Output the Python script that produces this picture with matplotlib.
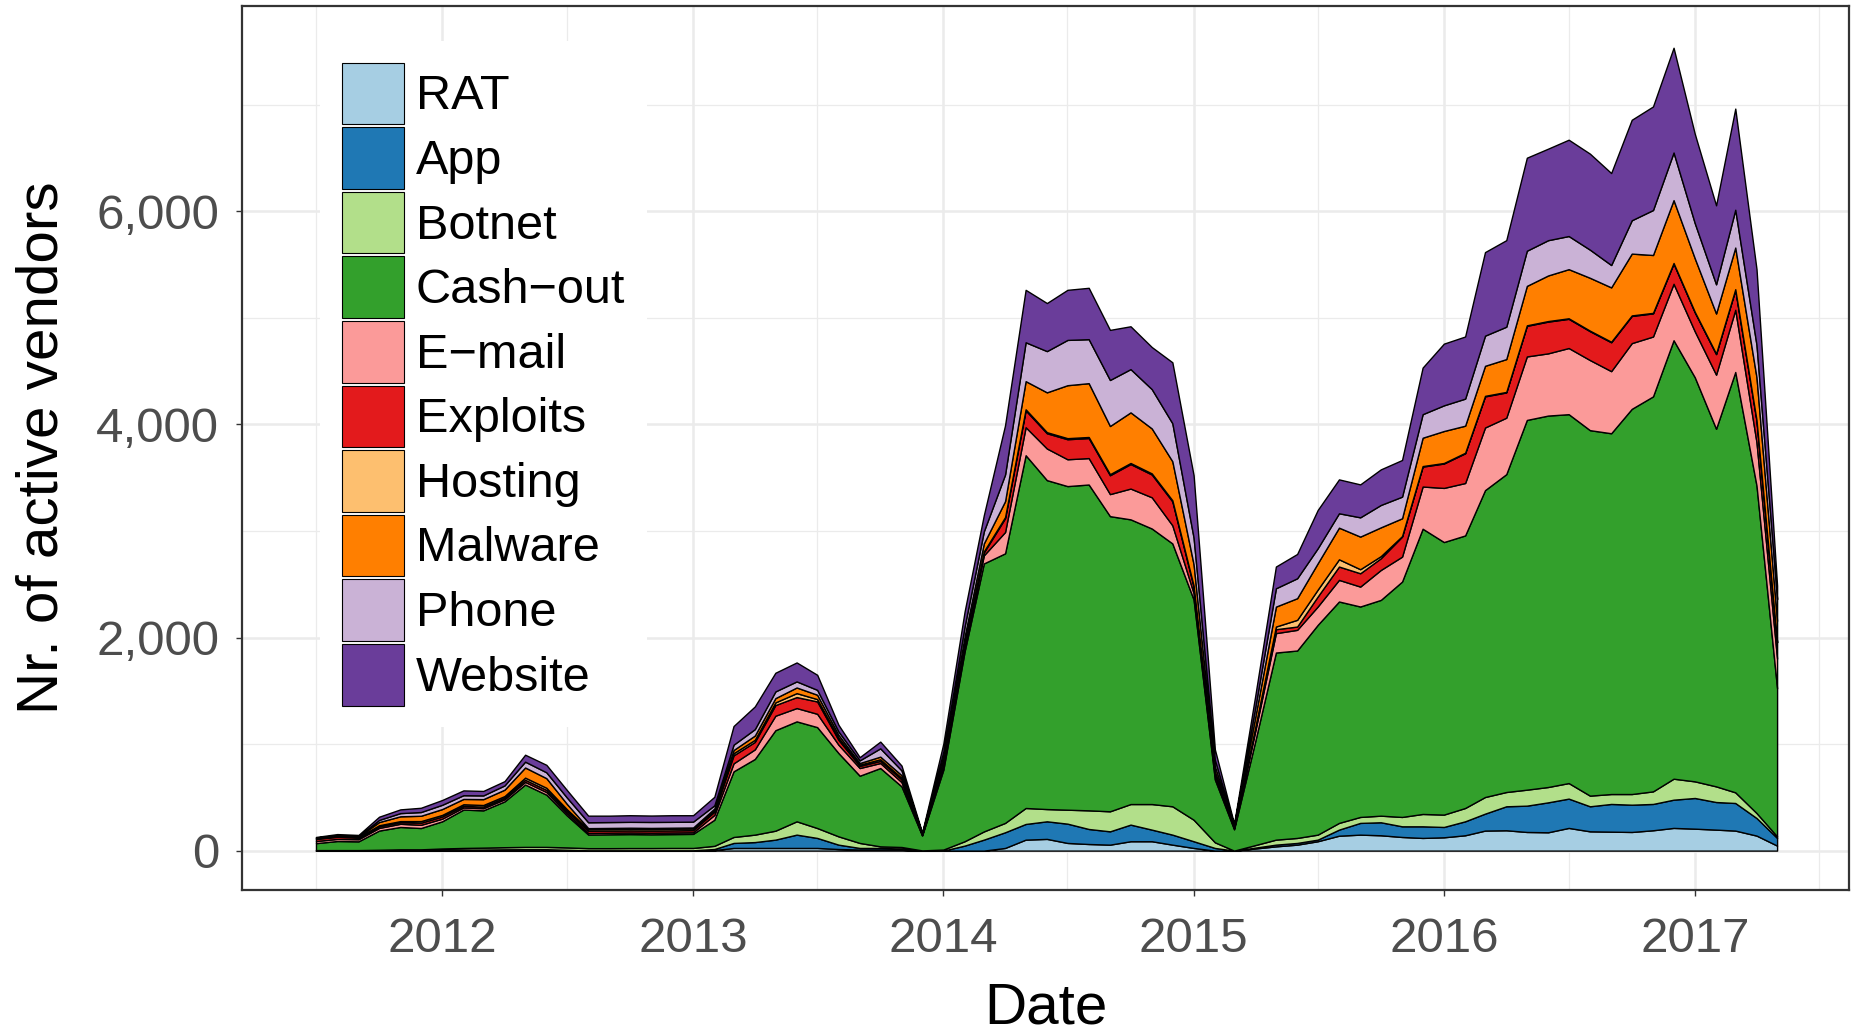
"""Active vendors per category, stacked area chart (ggplot-like look)."""

import matplotlib
matplotlib.use("Agg")
import matplotlib.dates as mdates
import matplotlib.pyplot as plt
import numpy as np
import pandas as pd
from matplotlib.patches import Patch
from matplotlib.ticker import FuncFormatter, MultipleLocator

plt.rcParams["font.family"] = ["Liberation Sans", "DejaVu Sans"]

# monthly, Jul 2011 .. May 2017
months = pd.date_range("2011-07-01", periods=71, freq="MS")

categories = ["RAT", "App", "Botnet", "Cash\u2212out", "E\u2212mail", "Exploits",
              "Hosting", "Malware", "Phone", "Website"]

rat = [0, 0, 0, 0, 0, 0, 3, 5, 5, 5, 5, 5, 3,
       0, 0, 0, 0, 0, 0,
       5, 25, 25, 25, 25, 25, 15, 10, 10, 8, 0,
       0, 0, 0, 25, 103, 110, 72, 62, 56, 88, 88, 56, 25, 0, 0,
       20, 40, 56, 88, 140, 150, 144, 128,
       119, 125, 144, 188, 191, 175, 172, 213, 181, 178, 175, 191, 213, 206, 197, 188, 141, 47]
app = [0, 0, 0, 3, 4, 4, 5, 5, 5, 7, 8, 8, 5,
       3, 3, 3, 3, 3, 3,
       10, 47, 55, 78, 125, 94, 41, 15, 15, 12, 0,
       0, 47, 103, 147, 147, 165, 181, 141, 125, 156, 109, 94, 63, 25, 0,
       8, 16, 16, 15, 57, 110, 122, 100,
       109, 97, 131, 159, 225, 247, 281, 275, 235, 260, 256, 247, 265, 288, 259, 259, 165, 72]
botnet = [5, 5, 5, 5, 8, 8, 12, 15, 18, 20, 22, 22, 22,
          20, 20, 21, 21, 22, 22,
          30, 56, 70, 84, 125, 93, 78, 47, 15, 14, 2,
          10, 41, 77, 88, 150, 115, 131, 175, 188, 193, 240, 266, 202, 53, 0,
          24, 47, 47, 47, 63, 56, 62, 88,
          116, 116, 125, 156, 134, 150, 144, 146, 100, 93, 100, 118, 197, 156, 147, 100, 47, 15]
cash_out = [65, 85, 82, 180, 210, 200, 255, 360, 350, 430, 585, 490, 300,
            128, 130, 131, 129, 130, 132,
            245, 616, 710, 943, 938, 947, 782, 631, 735, 569, 140,
            750, 1782, 2515, 2530, 3311, 3087, 3037, 3058, 2770, 2672, 2586, 2467, 2067, 590, 200,
            978, 1756, 1759, 1969, 2078, 1975, 2025, 2209,
            2677, 2558, 2558, 2880, 2983, 3470, 3486, 3462, 3430, 3386, 3615, 3707, 4115, 3792,
            3356, 3945, 3073, 1389]
email = [20, 20, 20, 25, 30, 30, 25, 20, 20, 20, 25, 25, 20,
         15, 15, 15, 15, 15, 15,
         45, 75, 90, 136, 125, 125, 78, 72, 47, 40, 5,
         40, 40, 76, 200, 263, 297, 252, 248, 207, 289, 293, 170, 60, 40, 10,
         96, 182, 194, 172, 203, 187, 281, 234,
         396, 508, 492, 588, 530, 596, 584, 621, 658, 583, 617, 562, 530, 431, 508, 584, 406, 279]
exploits = [20, 20, 15, 15, 15, 20, 20, 15, 15, 15, 20, 20, 20,
            20, 20, 20, 20, 20, 20,
            30, 75, 70, 100, 103, 116, 46, 20, 20, 25, 3,
            30, 30, 27, 130, 158, 143, 188, 188, 177, 230, 214, 225, 60, 30, 8,
            22, 37, 31, 94, 125, 125, 110, 188,
            187, 229, 279, 292, 237, 287, 298, 274, 271, 271, 255, 217, 190, 178, 193, 188, 204, 152]
hosting = [5, 5, 5, 10, 10, 15, 15, 15, 15, 15, 20, 20, 18,
           15, 15, 15, 15, 15, 15,
           15, 20, 20, 25, 37, 22, 20, 12, 15, 15, 2,
           10, 10, 10, 10, 10, 10, 10, 10, 10, 10, 10, 10, 10, 5, 2,
           13, 25, 63, 65, 68, 38, 20, 5,
           5, 5, 5, 5, 5, 5, 5, 5, 5, 5, 5, 5, 5, 5, 5, 5, 5, 5]
malware = [5, 5, 5, 30, 45, 50, 55, 50, 55, 60, 95, 90, 50,
           10, 10, 10, 10, 10, 10,
           15, 30, 40, 40, 53, 41, 27, 15, 25, 25, 5,
           50, 60, 75, 150, 264, 374, 497, 505, 452, 475, 422, 366, 200, 50, 10,
           98, 187, 203, 247, 297, 306, 270, 167,
           266, 300, 254, 282, 308, 370, 428, 461, 496, 510, 580, 543, 590, 502, 376, 391, 401, 198]
phone = [3, 5, 5, 20, 30, 35, 40, 35, 35, 40, 55, 55, 60,
         55, 55, 55, 56, 55, 55,
         30, 50, 60, 63, 57, 46, 32, 25, 78, 45, 5,
         40, 95, 113, 250, 365, 387, 425, 413, 432, 406, 369, 357, 250, 60, 10,
         91, 172, 187, 141, 135, 181, 210, 203,
         221, 241, 254, 283, 304, 330, 331, 311, 264, 210, 313, 422, 447, 330, 274, 355, 304, 203]
website = [5, 10, 10, 30, 35, 40, 45, 45, 42, 40, 65, 70, 70,
           62, 60, 62, 60, 62, 60,
           80, 175, 213, 175, 178, 141, 62, 30, 63, 45, 8,
           74, 139, 151, 462, 492, 451, 470, 482, 470, 402, 395, 572, 586, 97, 12,
           108, 204, 228, 359, 318, 309, 334, 344,
           437, 579, 583, 784, 812, 873, 859, 904, 901, 863, 943, 972, 983, 838, 741, 949, 711, 127]

colors = ["#A6CEE3", "#1F78B4", "#B2DF8A", "#33A02C", "#FB9A99",
          "#E31A1C", "#FDBF6F", "#FF7F00", "#CAB2D6", "#6A3D9A"]

series = [rat, app, botnet, cash_out, email, exploits, hosting, malware, phone, website]

fig = plt.figure(figsize=(18.61, 10.33), dpi=100)
ax = fig.add_axes([0.130, 0.1384, 0.8636, 0.8556])

ax.stackplot(months, np.array(series), colors=colors,
             edgecolor="black", linewidth=1.0, zorder=2)

# axes range (ggplot-style 5% expansion)
ax.set_xlim(pd.Timestamp("2011-03-15"), pd.Timestamp("2017-08-14"))
ax.set_ylim(-370, 7925)

ax.xaxis.set_major_locator(mdates.YearLocator(base=1, month=1, day=1))
ax.xaxis.set_major_formatter(mdates.DateFormatter("%Y"))
ax.xaxis.set_minor_locator(mdates.MonthLocator(bymonth=7))
ax.yaxis.set_major_locator(MultipleLocator(2000))
ax.yaxis.set_minor_locator(MultipleLocator(1000))
ax.yaxis.set_major_formatter(FuncFormatter(lambda v, p: f"{int(v):,}"))

ax.set_axisbelow(True)
ax.grid(which="major", color="#EBEBEB", linewidth=1.8, zorder=0)
ax.grid(which="minor", color="#EBEBEB", linewidth=0.9, zorder=0)

ax.tick_params(which="major", length=4.5, width=1.0, color="#333333",
               labelsize=35.5, labelcolor="#4D4D4D")
ax.tick_params(axis="x", which="major", pad=15)
ax.tick_params(axis="y", which="major", pad=12)
ax.tick_params(which="minor", length=0)
for s in ax.spines.values():
    s.set_color("#333333")
    s.set_linewidth(1.6)

ax.set_xlabel("Date", fontsize=42)
ax.set_ylabel("Nr. of active vendors", fontsize=42)
ax.xaxis.set_label_coords(0.5, -0.104)
ax.yaxis.set_label_coords(-0.107, 0.5)

handles = [Patch(facecolor=c, edgecolor="black", linewidth=0.8) for c in colors]
leg = ax.legend(handles, categories, loc="upper left",
                bbox_to_anchor=(0.0487, 0.961), borderaxespad=0,
                fontsize=35, handlelength=1.27, handleheight=1.575,
                labelspacing=0.06, handletextpad=0.25, borderpad=0.45,
                frameon=True, fancybox=False, framealpha=1.0)
leg.get_frame().set_facecolor("white")
leg.get_frame().set_edgecolor("none")
leg.set_zorder(5)

fig.savefig("out.png", dpi=100)
